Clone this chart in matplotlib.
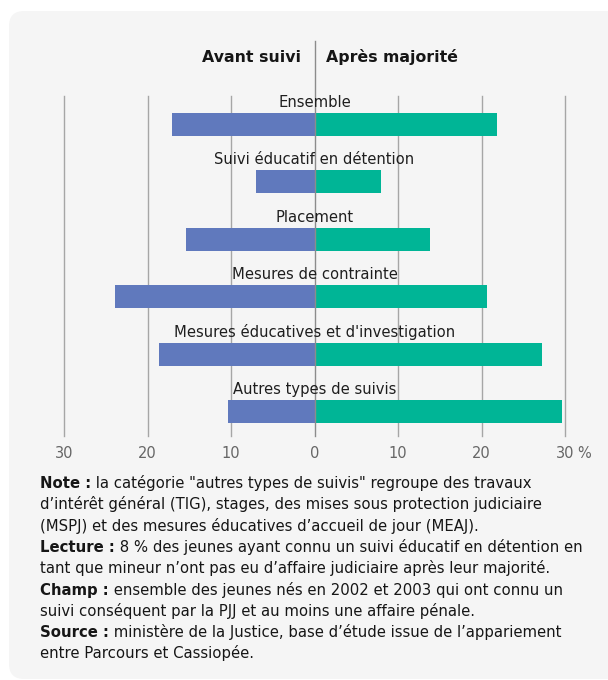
import matplotlib
matplotlib.use("Agg")
import matplotlib.pyplot as plt
from matplotlib.patches import FancyBboxPatch

categories = ["Ensemble", "Suivi éducatif en détention", "Placement",
              "Mesures de contrainte", "Mesures éducatives et d'investigation",
              "Autres types de suivis"]
avant = [17.1, 7.0, 15.4, 23.9, 18.6, 10.4]
apres = [21.8, 8.0, 13.8, 20.6, 27.3, 29.6]
xticks = [-30, -20, -10, 0, 10, 20, 30]
xticklabels = ["30", "20", "10", "0", "10", "20", "30"]
header_left = "Avant suivi"
header_right = "Après majorité"
notes = [
    ("Note :", " la catégorie \"autres types de suivis\" regroupe des travaux"),
    ("", "d’intérêt général (TIG), stages, des mises sous protection judiciaire"),
    ("", "(MSPJ) et des mesures éducatives d’accueil de jour (MEAJ)."),
    ("Lecture :", " 8 % des jeunes ayant connu un suivi éducatif en détention en"),
    ("", "tant que mineur n’ont pas eu d’affaire judiciaire après leur majorité."),
    ("Champ :", " ensemble des jeunes nés en 2002 et 2003 qui ont connu un"),
    ("", "suivi conséquent par la PJJ et au moins une affaire pénale."),
    ("Source :", " ministère de la Justice, base d’étude issue de l’appariement"),
    ("", "entre Parcours et Cassiopée."),
]

FONT = ["DejaVu Sans"]
plt.rcParams['font.family'] = FONT

W, H = 608, 680
fig = plt.figure(figsize=(W / 100, H / 100), dpi=100)
fig.patch.set_facecolor("white")

def fx(px):
    return px / W

def fy(py):
    return 1 - py / H

# background panel
panel = FancyBboxPatch((fx(9), fy(679)), fx(640), (679 - 11) / H,
                       boxstyle="round,pad=0,rounding_size=0.025",
                       transform=fig.transFigure, facecolor="#f5f5f5",
                       edgecolor="none", zorder=-10, mutation_aspect=W / H)
fig.patches.append(panel)

x0, x1 = 64, 565
ytop, ybot = 96, 436
ax = fig.add_axes([fx(x0), fy(ybot), (x1 - x0) / W, (ybot - ytop) / H])
ax.set_facecolor("none")
ax.set_zorder(2)
ax.set_xlim(-30, 30)
ax.set_ylim(5.427, -0.497)
for s in ax.spines.values():
    s.set_visible(False)
ax.set_xticks([])
ax.set_yticks([])

blue = "#6079BD"
green = "#00B596"
ypos = list(range(len(categories)))
ax.barh(ypos, [-v for v in avant], height=0.4, color=blue, zorder=2)
ax.barh(ypos, apres, height=0.4, color=green, zorder=2)

for t in xticks:
    if t != 0:
        ax.axvline(t, color="#a6a6a6", lw=1.0, zorder=1, clip_on=False)

# zero line extends up to header
ax.plot([0, 0], [5.427, -0.497 - (96 - 41) / 57.4], color="#8c8c8c",
        lw=1.0, zorder=4, clip_on=False)

for i, c in enumerate(categories):
    ax.text(0, i - 0.2 - 6 / 57.4, c, ha="center", va="baseline",
            fontsize=10.6, color="#1e1e1e", zorder=5)

# tick labels
fig.canvas.draw()
r = fig.canvas.get_renderer()
for t, lab in zip(xticks, xticklabels):
    txt = fig.text(fx(x0 + (t + 30) / 60 * (x1 - x0)), fy(458), lab,
                   ha="center", va="baseline", fontsize=10.5, color="#666666")
    if t == 30:
        bb = txt.get_window_extent(r)
        fig.text(bb.x1 / W + fx(3), fy(458), "%", ha="left", va="baseline",
                 fontsize=10.5, color="#666666")

fig.text(fx(301.5), fy(62), header_left, ha="right", va="baseline",
         fontsize=11.3, fontweight="bold", color="#161616")
fig.text(fx(325.5), fy(62), header_right, ha="left", va="baseline",
         fontsize=11.3, fontweight="bold", color="#161616")

base0 = 488
step = 21.3
for k, (b, rest) in enumerate(notes):
    yb = fy(base0 + k * step)
    xs = fx(40)
    if b:
        tb = fig.text(xs, yb, b, ha="left", va="baseline", fontsize=10.75,
                      fontweight="bold", color="#161616")
        bb = tb.get_window_extent(r)
        xs = bb.x1 / W
    fig.text(xs, yb, rest, ha="left", va="baseline", fontsize=10.75,
             color="#161616")

fig.savefig("out.png", dpi=100, facecolor=fig.get_facecolor())
